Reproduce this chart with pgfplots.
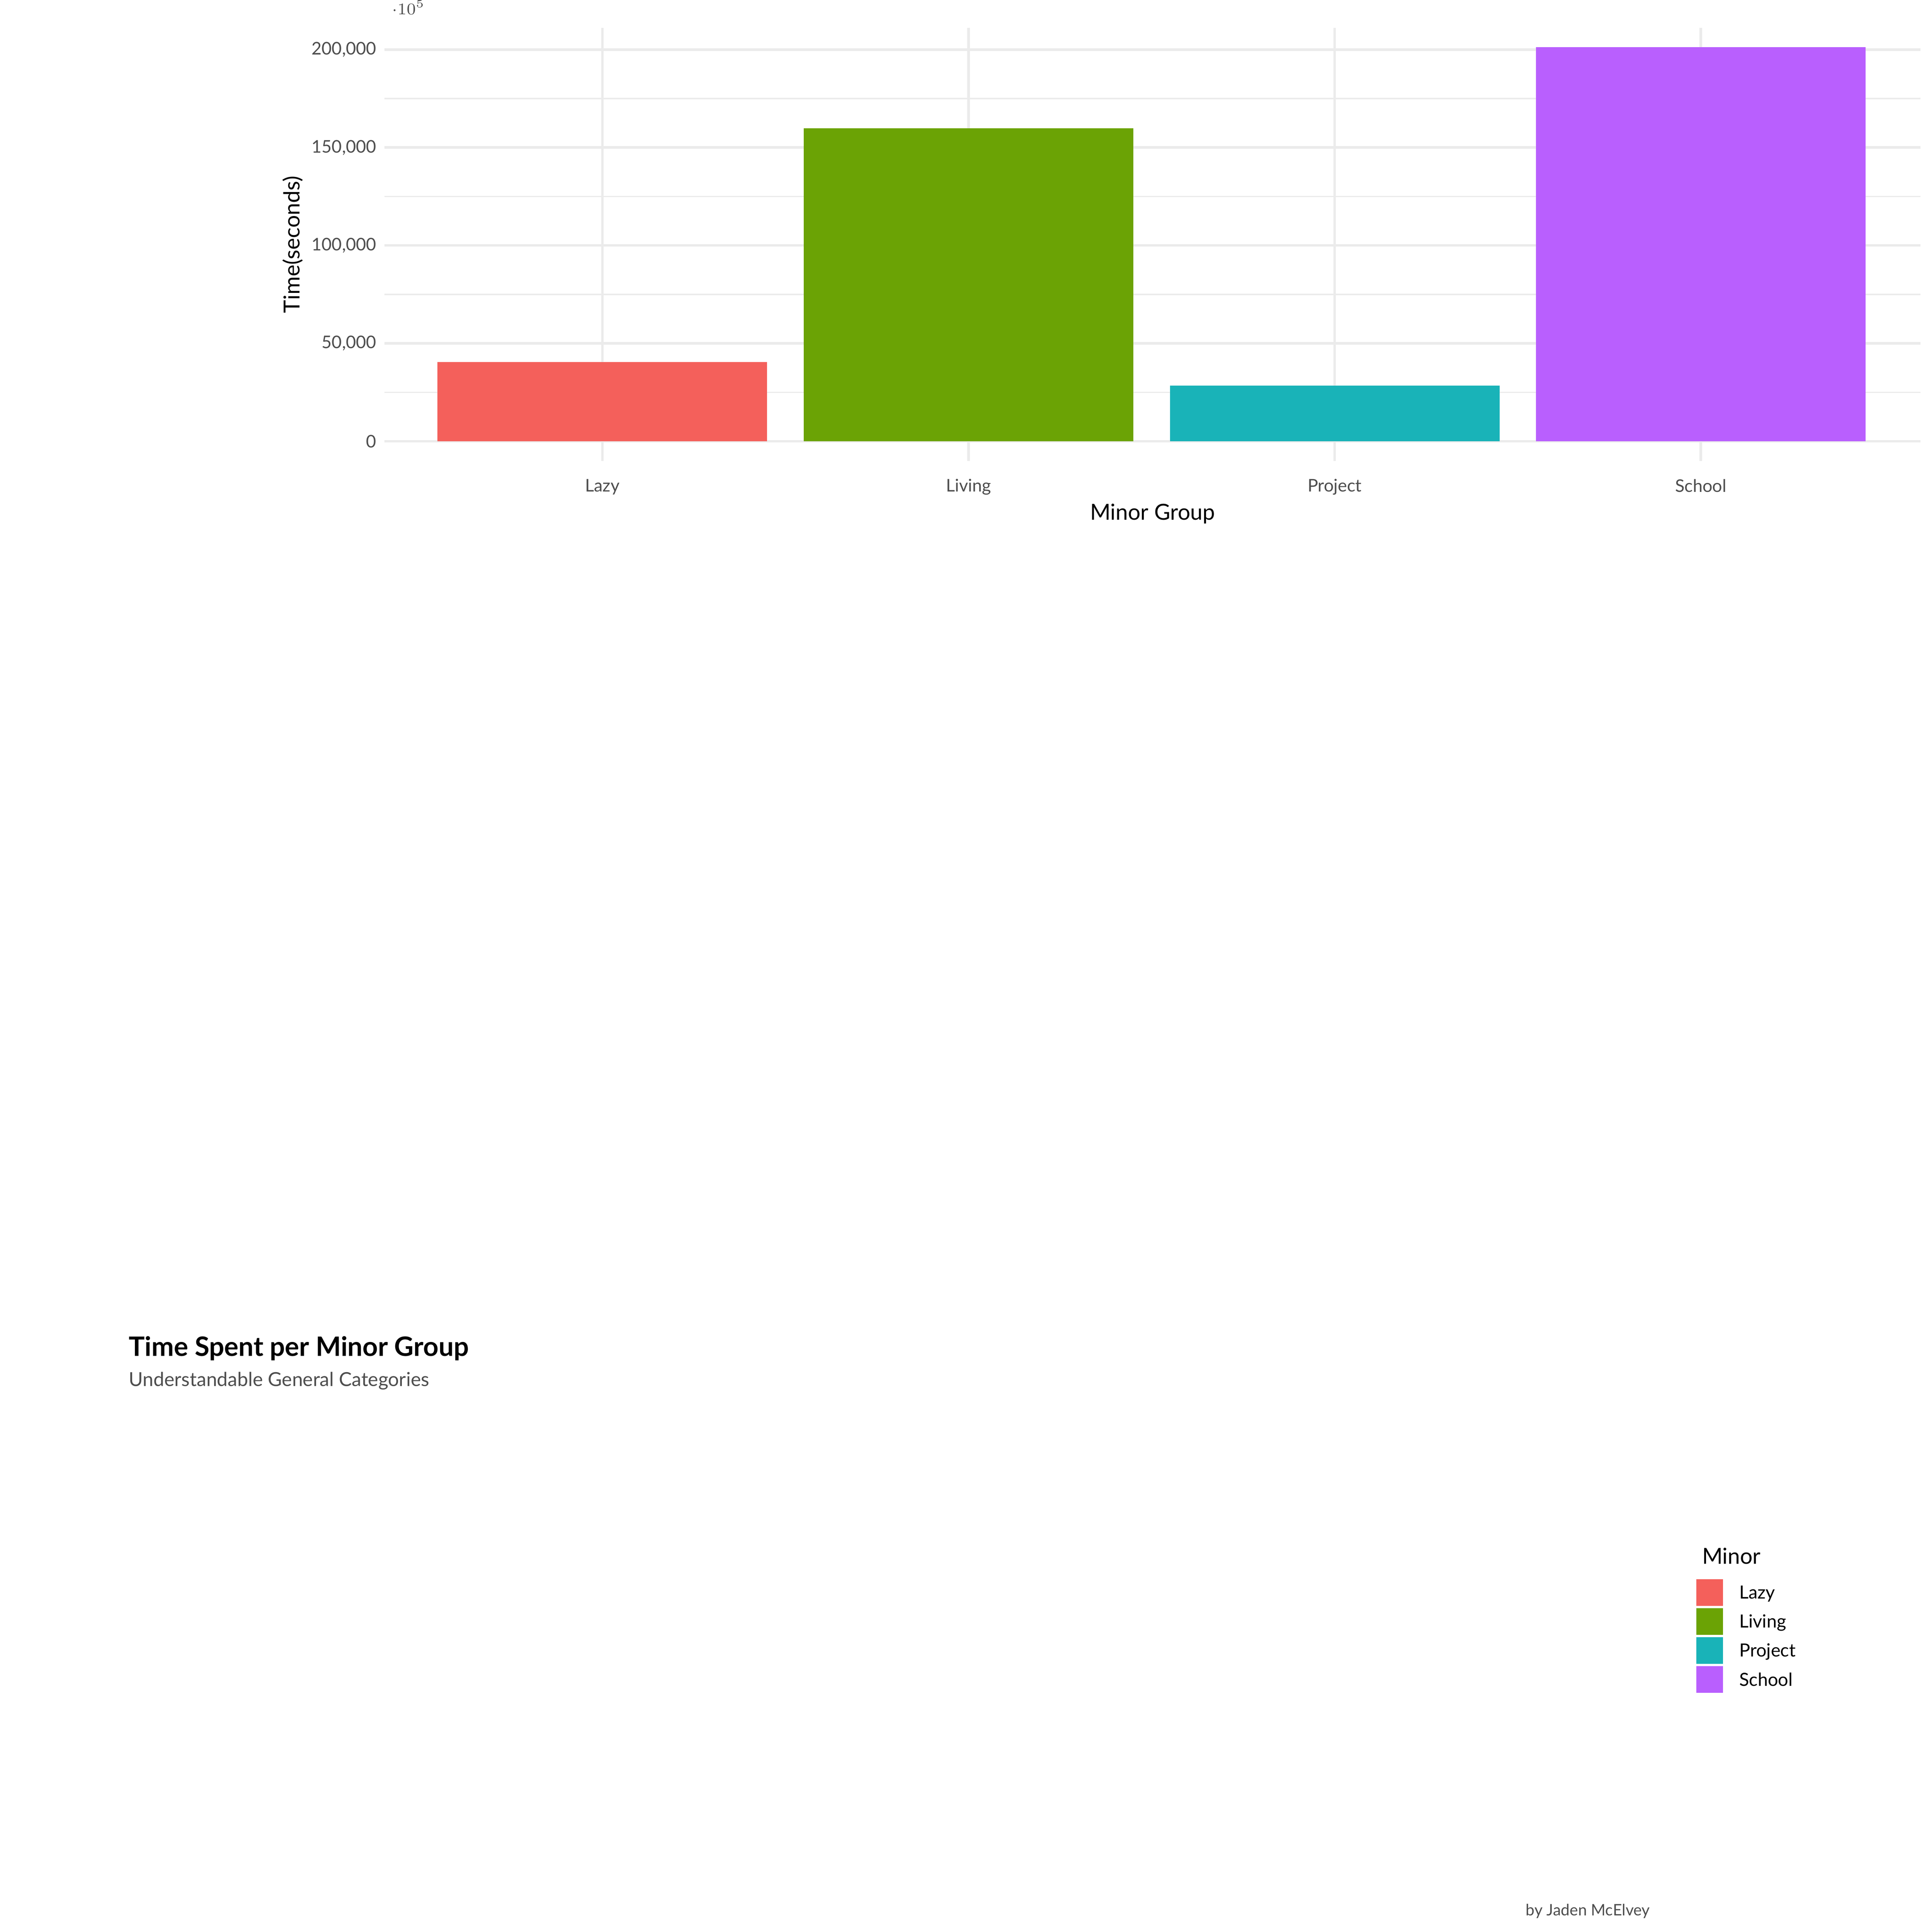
\documentclass[border=0pt]{standalone}
\usepackage{pgfplots}
\pgfplotsset{compat=1.18}
\usepackage{fontspec}
\setmainfont{Lato}
\definecolor{cLazy}{HTML}{F4605B}
\definecolor{cLiving}{HTML}{6BA305}
\definecolor{cProject}{HTML}{19B3B8}
\definecolor{cSchool}{HTML}{B95FFE}
\definecolor{gridc}{HTML}{EBEBEB}
\definecolor{tickc}{HTML}{4D4D4D}
\begin{document}
\begin{tikzpicture}[x=0.5pt,y=-0.5pt]
\path (0,0) rectangle (1568,523);
\begin{axis}[at={(105,441)}, anchor=south west, scale only axis,
 width=661.5pt, height=186.5pt,
 xmin=0.405, xmax=4.6, ymin=-10050, ymax=211050,
 axis line style={draw=none}, tick style={draw=none},
 xtick={1,2,3,4}, xticklabels={Lazy,Living,Project,School},
 ytick={0,50000,100000,150000,200000},
 minor ytick={25000,75000,125000,175000},
 yticklabels={0,{50,000},{100,000},{150,000},{200,000}},
 grid=both, major grid style={gridc,line width=1.1pt},
 minor grid style={gridc,line width=0.55pt},
 ticklabel style={font=\fontsize{7.5}{9}\selectfont, text=tickc},
 /pgf/number format/assume math mode=true,
 xlabel={Minor Group}, ylabel={Time(seconds)},
 label style={font=\fontsize{9.5}{11}\selectfont},
 xlabel style={yshift=3pt}, ylabel style={yshift=-3pt},
 ybar, bar width=0.9, bar shift=0pt,
 every axis plot/.append style={draw=none}]
\addplot[fill=cLazy] coordinates {(1,40400)};
\addplot[fill=cLiving] coordinates {(2,159800)};
\addplot[fill=cProject] coordinates {(3,28500)};
\addplot[fill=cSchool] coordinates {(4,201200)};
\end{axis}
\node[anchor=base west,font=\fontsize{11.5}{13}\selectfont\bfseries] at (104,27) {Time Spent per Minor Group};
\node[anchor=base west,font=\fontsize{8.3}{10}\selectfont,text=tickc] at (104,53) {Understandable General Categories};
\node[anchor=base east,font=\fontsize{6.8}{8}\selectfont,text=tickc] at (1428,509) {by Jaden McElvey};
\node[anchor=base west,font=\fontsize{9.5}{11}\selectfont] at (1459,206) {Minor};
\foreach \c/\n [count=\i] in {cLazy/Lazy,cLiving/Living,cProject/Project,cSchool/School}{
 \fill[\c] (1461,{219+(\i-1)*25}) rectangle (1484,{242+(\i-1)*25});
 \node[anchor=base west,font=\fontsize{7.8}{9}\selectfont] at (1491,{236+(\i-1)*25}) {\n};
}
\end{tikzpicture}
\end{document}
